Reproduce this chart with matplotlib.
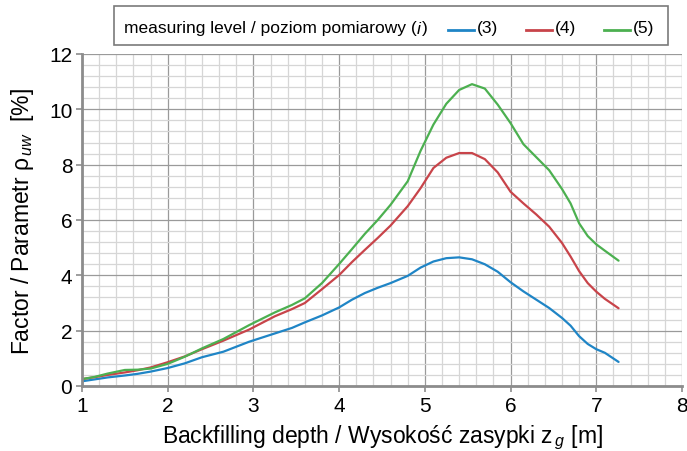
import matplotlib
matplotlib.use("Agg")
import matplotlib.pyplot as plt
from matplotlib.lines import Line2D
from matplotlib.patches import Rectangle
from matplotlib.ticker import MultipleLocator

plt.rcParams['font.family'] = ['Liberation Sans', 'DejaVu Sans']
plt.rcParams['mathtext.fontset'] = 'custom'
plt.rcParams['mathtext.rm'] = 'Liberation Sans'
plt.rcParams['mathtext.it'] = 'Liberation Sans:italic'

depth = [1.0, 1.15, 1.3, 1.5, 1.65, 1.8, 2.0, 2.2, 2.4, 2.65, 2.95, 3.25, 3.45, 3.6,
         3.8, 4.0, 4.15, 4.3, 4.45, 4.6, 4.8, 4.95, 5.1, 5.25, 5.4, 5.55, 5.7, 5.85,
         6.0, 6.15, 6.3, 6.45, 6.6, 6.7, 6.8, 6.9, 7.0, 7.1, 7.26]

level3 = [0.17, 0.24, 0.31, 0.38, 0.44, 0.52, 0.65, 0.82, 1.04, 1.24, 1.60, 1.90, 2.10, 2.30,
          2.55, 2.84, 3.12, 3.36, 3.55, 3.72, 3.98, 4.28, 4.50, 4.62, 4.65, 4.58, 4.40, 4.13,
          3.75, 3.42, 3.12, 2.82, 2.46, 2.18, 1.80, 1.52, 1.33, 1.20, 0.87]

level4 = [0.25, 0.32, 0.40, 0.49, 0.57, 0.67, 0.86, 1.07, 1.33, 1.64, 2.04, 2.52, 2.78, 3.00,
          3.50, 4.01, 4.48, 4.92, 5.35, 5.80, 6.50, 7.15, 7.88, 8.25, 8.42, 8.42, 8.20, 7.72,
          7.02, 6.60, 6.20, 5.76, 5.17, 4.68, 4.15, 3.72, 3.41, 3.15, 2.81]

level5 = [0.25, 0.33, 0.45, 0.58, 0.59, 0.63, 0.80, 1.06, 1.36, 1.70, 2.20, 2.66, 2.93, 3.17,
          3.72, 4.41, 4.95, 5.50, 6.00, 6.55, 7.40, 8.50, 9.45, 10.20, 10.70, 10.91, 10.75, 10.17,
          9.50, 8.74, 8.27, 7.80, 7.12, 6.60, 5.88, 5.42, 5.12, 4.89, 4.53]

series_labels = ["(3)", "(4)", "(5)"]
colors = ['#1f85c6', '#c8444a', '#4cb050']
x_ticks = [1, 2, 3, 4, 5, 6, 7, 8]
y_ticks = [0, 2, 4, 6, 8, 10, 12]

fig = plt.figure(figsize=(6.87, 4.52), dpi=100)
ax = fig.add_axes([82/687, 1-387/452, 600/687, 332/452])

ax.set_xlim(1, 8)
ax.set_ylim(0, 12)
ax.set_xticks(x_ticks)
ax.set_yticks(y_ticks)
ax.xaxis.set_minor_locator(MultipleLocator(0.2))
ax.yaxis.set_minor_locator(MultipleLocator(0.4))
ax.grid(which='minor', color='#d6d6d6', lw=0.9)
ax.grid(which='major', color='#9a9a9a', lw=0.9)
ax.set_axisbelow(True)
for s in ['top', 'right']:
    ax.spines[s].set_visible(False)
for s in ['left', 'bottom']:
    ax.spines[s].set_color('#8c8c8c')
    ax.spines[s].set_linewidth(2)
ax.tick_params(which='major', length=4, width=1.2, color='#8c8c8c', labelsize=15, pad=3)
ax.tick_params(which='minor', length=0)

lines = []
for ys, c in zip([level3, level4, level5], colors):
    l, = ax.plot(depth, ys, color=c, lw=1.6, solid_capstyle='round', solid_joinstyle='round')
    lines.append(l)

ax.set_xlabel("Backfilling depth / Wysokość zasypki z$_{\\,g}$ [m]", fontsize=16.5, labelpad=6)
ax.set_ylabel("Factor / Parametr ρ$_{\\,uw}$  [%]", fontsize=16.5, labelpad=9)

# legend box (figure pixel coordinates)
W, H = 687.0, 452.0
def fx(px):
    return px / W
def fy(py):
    return 1 - py / H

fig.patches.append(Rectangle((fx(114), fy(46)), fx(668) - fx(114), fy(7) - fy(46),
                             transform=fig.transFigure, fill=False, ec='#7a7a7a', lw=1.2))
t = fig.text(fx(124), fy(29), "measuring level / poziom pomiarowy (", fontsize=12.5, va='center', ha='left')
fig.canvas.draw()
x_end = t.get_window_extent().x1 / W
t2 = fig.text(x_end, fy(29), "i", fontsize=12.5, va='center', ha='left', style='italic')
fig.canvas.draw()
x_end2 = t2.get_window_extent().x1 / W
fig.text(x_end2 + 0.002, fy(29), ")", fontsize=12.5, va='center', ha='left')

starts = [448, 526, 604]
for l, lab, sx in zip(lines, series_labels, starts):
    fig.lines.append(Line2D([fx(sx), fx(sx + 26)], [fy(31), fy(31)], transform=fig.transFigure,
                            color=l.get_color(), lw=2))
    fig.text(fx(sx + 29), fy(29), lab, fontsize=12.5, va='center', ha='left')

fig.savefig("out.png", dpi=100)
